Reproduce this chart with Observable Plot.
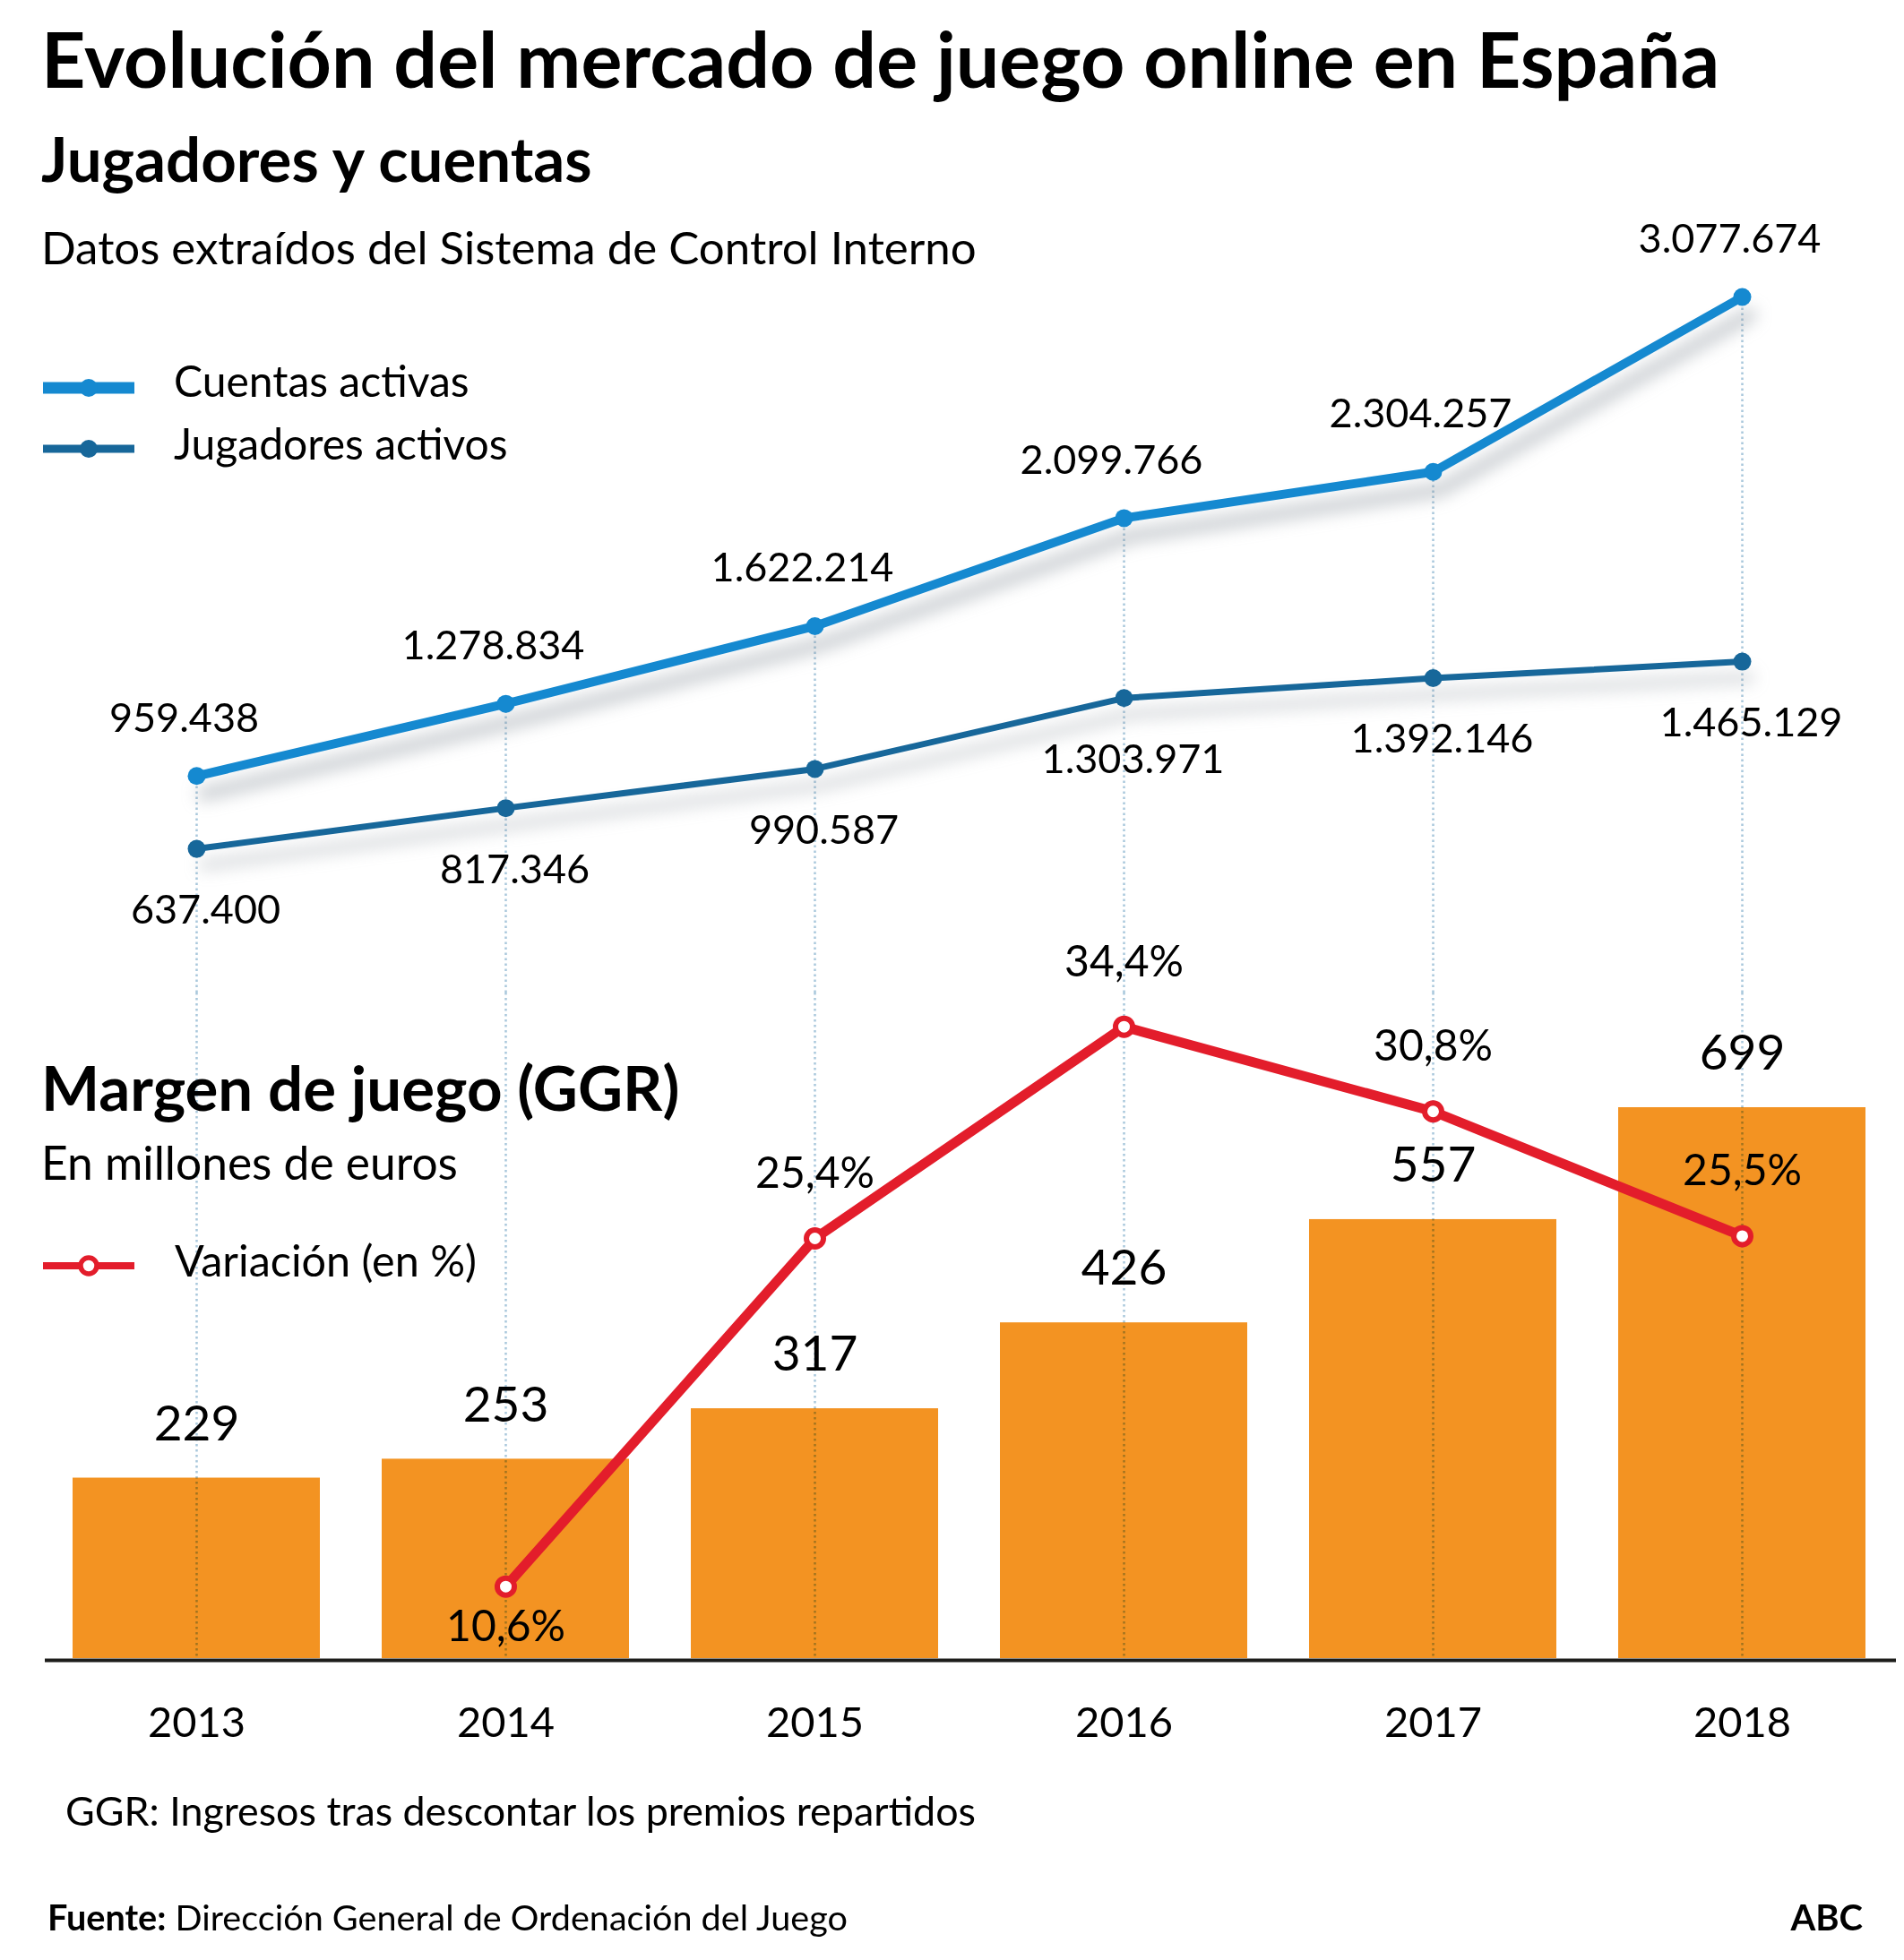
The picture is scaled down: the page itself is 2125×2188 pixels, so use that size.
<!DOCTYPE html>
<html><head><meta charset="utf-8">
<script src="https://cdn.jsdelivr.net/npm/d3@7"></script>
<script src="https://cdn.jsdelivr.net/npm/@observablehq/plot@0.6"></script>
<style>
body{margin:0;background:#fff;}
#wrap{position:relative;width:2125px;height:2188px;overflow:hidden;font-family:Lato,"Open Sans",sans-serif;color:#000;background:#fff;}
.t{position:absolute;white-space:nowrap;line-height:1;}
.sw{position:absolute;}
</style></head><body><div id="wrap"></div>
<script>
// ---------- data ----------
const years = ["2013","2014","2015","2016","2017","2018"];
const cuentasActivas = [959438, 1278834, 1622214, 2099766, 2304257, 3077674];
const jugadoresActivos = [637400, 817346, 990587, 1303971, 1392146, 1465129];
const ggrMillones = [229, 253, 317, 426, 557, 699];
const variacionYears = ["2014","2015","2016","2017","2018"];
const variacionPct = [10.6, 25.4, 34.4, 30.8, 25.5];

// ---------- helpers ----------
const W = 2125, H = 2188;
const es = d3.formatLocale({decimal: ",", thousands: ".", grouping: [3], currency: ["", "€"]});
const fmtInt = es.format(",d");
const fmtPct = v => es.format(".1f")(v) + "%";

const cuentasData = years.map((year, i) => ({year, value: cuentasActivas[i]}));
const jugadoresData = years.map((year, i) => ({year, value: jugadoresActivos[i]}));
const ggrData = years.map((year, i) => ({year, value: ggrMillones[i]}));
const varData = variacionYears.map((year, i) => ({year, value: variacionPct[i]}));

const C_CUENTAS = "#1589d0", C_JUG = "#17679a", C_RED = "#e31d2b", C_BAR = "#f39322";
const SHADOW = "#77818b", GRID = "#a9c8dc";
const FONT = "Lato, 'Open Sans', sans-serif";

const wrap = document.getElementById("wrap");

function place(html, x, baseline, size, weight, anchor) {
  const d = document.createElement("div");
  d.className = "t";
  d.style.fontSize = size + "px";
  d.style.fontWeight = weight || 400;
  d.innerHTML = html + '<span style="display:inline-block;width:0;height:0;vertical-align:baseline"></span>';
  wrap.appendChild(d);
  const m = d.lastChild.getBoundingClientRect().top - d.getBoundingClientRect().top;
  d.style.top = (baseline - m) + "px";
  if (anchor === "end") d.style.left = (x - d.getBoundingClientRect().width) + "px";
  else d.style.left = x + "px";
  return d;
}
function swatch(y, color, thick, marker) {
  const ns = "http://www.w3.org/2000/svg";
  const s = document.createElementNS(ns, "svg");
  s.setAttribute("class", "sw");
  s.setAttribute("width", 120); s.setAttribute("height", 40);
  s.style.left = "40px"; s.style.top = (y - 20) + "px";
  const l = document.createElementNS(ns, "line");
  l.setAttribute("x1", 8); l.setAttribute("x2", 110); l.setAttribute("y1", 20); l.setAttribute("y2", 20);
  l.setAttribute("stroke", color); l.setAttribute("stroke-width", thick);
  s.appendChild(l);
  const c = document.createElementNS(ns, "circle");
  c.setAttribute("cx", 59); c.setAttribute("cy", 20);
  if (marker === "open") { c.setAttribute("r", 9); c.setAttribute("fill", "#fff"); c.setAttribute("stroke", color); c.setAttribute("stroke-width", 5.5); }
  else { c.setAttribute("r", 10); c.setAttribute("fill", color); }
  s.appendChild(c);
  wrap.appendChild(s);
}

// ---------- layer A: bars, baseline, years, lower part of gridlines ----------
const bars = Plot.plot({
  width: W, height: H,
  marginTop: 1108, marginLeft: 50, marginRight: 9, marginBottom: H - 1851,
  x: {type: "band", domain: years, range: [46, 2116], paddingInner: 0.2, paddingOuter: 0.1, axis: null},
  y: {domain: [0, 699], range: [1851, 1236], axis: null},
  style: {fontFamily: FONT, background: "transparent", color: "#000", overflow: "visible"},
  marks: [
    Plot.barY(ggrData, {x: "year", y: "value", fill: C_BAR}),
    Plot.ruleX(years, {x: d => d, stroke: GRID, strokeWidth: 2.5, strokeDasharray: "2.5,3.5", mixBlendMode: "multiply"}),
    Plot.ruleY([0], {stroke: "#1d1d1b", strokeWidth: 4, dy: 2}),
    Plot.text(ggrData, {x: "year", y: "value", text: d => String(d.value), dy: -60, lineAnchor: "middle", fontSize: 55, fill: "#000"}),
    Plot.text(years, {x: d => d, text: d => d, frameAnchor: "bottom", dy: 87, lineAnchor: "bottom", fontSize: 47, fill: "#000"})
  ]
});

// ---------- layer B: players & accounts ----------
const pointX = {type: "point", domain: years, range: [46, 2116], padding: 0.5, axis: null};
const lines = Plot.plot({
  width: W, height: H,
  marginTop: 0, marginLeft: 0, marginRight: 0, marginBottom: H - 1108,
  x: pointX,
  y: {domain: [0, 3077674], range: [1108, 331], axis: null},
  style: {fontFamily: FONT, background: "transparent", color: "#000", overflow: "visible"},
  marks: [
    Plot.ruleX(cuentasData, {x: "year", y1: "value", stroke: GRID, strokeWidth: 2.5, strokeDasharray: "2.5,3.5", mixBlendMode: "multiply"}),
    Plot.line(jugadoresData, {x: "year", y: "value", stroke: SHADOW, strokeWidth: 12, strokeOpacity: 0.3, dx: 8, dy: 18}),
    Plot.line(cuentasData, {x: "year", y: "value", stroke: SHADOW, strokeWidth: 16, strokeOpacity: 0.38, dx: 8, dy: 20}),
    Plot.line(jugadoresData, {x: "year", y: "value", stroke: C_JUG, strokeWidth: 7}),
    Plot.dot(jugadoresData, {x: "year", y: "value", r: 10, fill: C_JUG}),
    Plot.line(cuentasData, {x: "year", y: "value", stroke: C_CUENTAS, strokeWidth: 10}),
    Plot.dot(cuentasData, {x: "year", y: "value", r: 10, fill: C_CUENTAS}),
    Plot.text(cuentasData, {x: "year", y: "value", text: d => fmtInt(d.value), dx: -14, dy: -64, lineAnchor: "middle", fontSize: 45, fill: "#000"}),
    Plot.text(jugadoresData, {x: "year", y: "value", text: d => fmtInt(d.value), dx: 10, dy: 69, lineAnchor: "middle", fontSize: 45, fill: "#000"})
  ]
});
d3.select(lines).selectAll(`g[stroke="${SHADOW}"]`).style("filter", "blur(9px)");

// ---------- layer C: variation line ----------
const variation = Plot.plot({
  width: W, height: H, margin: 0,
  x: pointX,
  y: {domain: [0, 34.4], range: [2049, 1145.7], axis: null},
  style: {fontFamily: FONT, background: "transparent", color: "#000", overflow: "visible"},
  marks: [
    Plot.line(varData, {x: "year", y: "value", stroke: C_RED, strokeWidth: 11, strokeLinejoin: "round"}),
    Plot.dot(varData, {x: "year", y: "value", r: 9.5, fill: "#fff", stroke: C_RED, strokeWidth: 6}),
    Plot.text(varData, {filter: (d, i) => i > 0, x: "year", y: "value", text: d => fmtPct(d.value), dy: -72, lineAnchor: "middle", fontSize: 48, fill: "#000"}),
    Plot.text(varData, {filter: (d, i) => i === 0, x: "year", y: "value", text: d => fmtPct(d.value), dy: 45, lineAnchor: "middle", fontSize: 48, fill: "#000"})
  ]
});

for (const svg of [bars, lines, variation]) {
  svg.style.position = "absolute";
  svg.style.left = "0px";
  svg.style.top = "0px";
  svg.style.maxWidth = "none";
  wrap.appendChild(svg);
}

// ---------- texts ----------
place("Evolución del mercado de juego online en España", 46, 98, 86, 700);
place("Jugadores y cuentas", 46, 203, 69, 700);
place("Datos extraídos del Sistema de Control Interno", 46, 295, 51, 400);
swatch(433, C_CUENTAS, 13, "dot");
place("Cuentas activas", 194, 443, 48, 400);
swatch(501, C_JUG, 9, "dot");
place("Jugadores activos", 194, 513, 48, 400);
place("Margen de juego (GGR)", 46, 1240, 69, 700);
place("En millones de euros", 46, 1317, 51.5, 400);
swatch(1413, C_RED, 8, "open");
place("Variación (en %)", 195, 1425, 48.5, 400);
place("GGR: Ingresos tras descontar los premios repartidos", 73, 2038, 44.8, 400);
place("<b>Fuente:</b> Dirección General de Ordenación del Juego", 53, 2155, 39.6, 400);
place("ABC", 2079, 2155, 40, 700, "end");
</script></body></html>
